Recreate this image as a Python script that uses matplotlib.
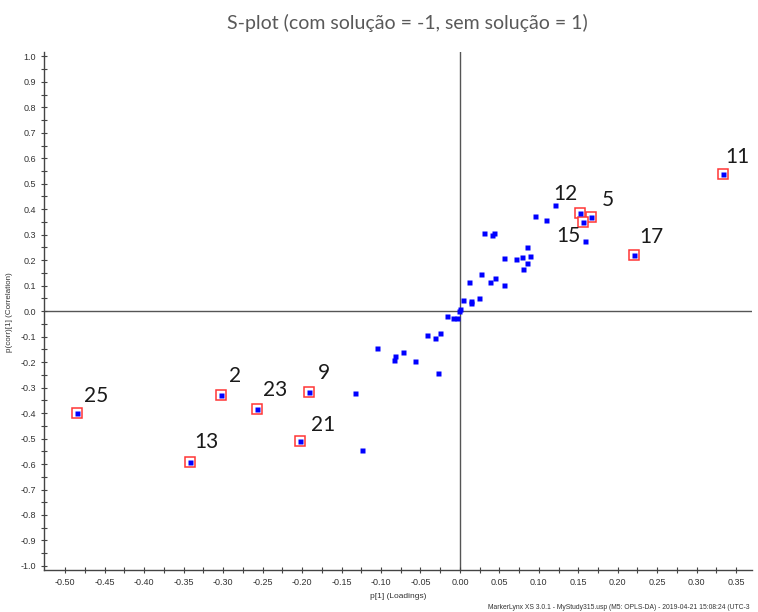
import matplotlib
matplotlib.use("Agg")
import matplotlib.pyplot as plt
from matplotlib.ticker import FormatStrFormatter

plt.rcParams["font.family"] = ["Liberation Sans", "DejaVu Sans"]

# loadings p[1] and correlation p(corr)[1] for every variable
p1 = [0.1207, 0.0954, 0.109, 0.158, 0.030, 0.0405, 0.043, 0.0844, 0.056, 0.0709,
      0.0789, 0.089, 0.0844, 0.0797, 0.0266, 0.011, 0.0447, 0.038, 0.056, 0.0236,
      0.0034, 0.0135, 0.0143, 0.0004, -0.0017, -0.016, -0.0093, -0.0042, -0.0253,
      -0.042, -0.031, -0.105, -0.0725, -0.0827, -0.084, -0.0566, -0.0274, -0.133,
      -0.1245]
pcorr = [0.417, 0.375, 0.357, 0.276, 0.307, 0.299, 0.305, 0.25, 0.208, 0.205,
         0.213, 0.217, 0.188, 0.167, 0.144, 0.115, 0.129, 0.115, 0.103, 0.051,
         0.042, 0.038, 0.033, 0.008, -0.001, -0.020, -0.025, -0.027, -0.086,
         -0.095, -0.107, -0.145, -0.162, -0.176, -0.193, -0.197, -0.244, -0.32,
         -0.545]

# selected variables (boxed and numbered)
sel_id = ["25", "2", "23", "9", "21", "13", "11", "17", "12", "5", "15"]
sel_p1 = [-0.485, -0.3025, -0.257, -0.191, -0.2025, -0.342, 0.333, 0.220, 0.152, 0.166, 0.156]
sel_pcorr = [-0.40, -0.328, -0.383, -0.316, -0.51, -0.591, 0.54, 0.22, 0.384, 0.371, 0.349]
# label offsets in points (dx, dy)
sel_off = [(5, 5), (6, 6), (4.5, 6), (6.5, 6.5), (8, 4.5), (3, 7), (2, 5), (4, 6),
           (-19, 6.5), (7.5, 4.5), (-19, -17)]

xticks = [t / 100 for t in range(-50, 40, 5)]
yticks = [t / 10 for t in range(-10, 11)]

fig = plt.figure(figsize=(7.58, 6.12), dpi=100)
ax = fig.add_axes([0.058, 0.0686, 0.934, 0.846])

ax.axvline(0, color="#555555", lw=1.0, zorder=1)
ax.axhline(0, color="#555555", lw=1.0, zorder=1)

ax.plot(p1, pcorr, "s", color="#0000ff", ms=3.6, mec="none", zorder=3)
ax.plot(sel_p1, sel_pcorr, "s", mfc="white", mec="#ff3535", mew=1.1, ms=6.6, zorder=2)
ax.plot(sel_p1, sel_pcorr, "s", color="#0000ff", ms=3.6, mec="none", zorder=3)

for lab, x, y, (dx, dy) in zip(sel_id, sel_p1, sel_pcorr, sel_off):
    ax.annotate(lab, (x, y), xytext=(dx, dy), textcoords="offset points",
                fontsize=15, family="Lato", color="#1a1a1a", ha="left", va="bottom")

ax.set_xticks(xticks)
ax.set_xticks([t + 0.025 for t in xticks], minor=True)
ax.set_yticks(yticks)
ax.set_yticks([t + 0.05 for t in yticks[:-1]], minor=True)
ax.xaxis.set_major_formatter(FormatStrFormatter("%.2f"))
ax.yaxis.set_major_formatter(FormatStrFormatter("%.1f"))
ax.set_xlim(-0.527, 0.37)
ax.set_ylim(-1.016, 1.016)

for s in ["top", "right"]:
    ax.spines[s].set_visible(False)
for s in ["left", "bottom"]:
    ax.spines[s].set_color("#444444")
    ax.spines[s].set_linewidth(1.0)

ax.tick_params(which="both", direction="inout", length=5, width=0.8, color="#444444",
               labelsize=6.5, labelcolor="#333333", pad=3)

fig.text(0.0125, 0.49, "p(corr)[1] (Correlation)", rotation=90, fontsize=5.8,
         color="#333333", ha="center", va="center")
fig.text(0.525, 0.026, "p[1] (Loadings)", fontsize=6, color="#333333",
         ha="center", va="center")
fig.text(0.644, 0.008, "MarkerLynx XS 3.0.1 - MyStudy315.usp (M5: OPLS-DA) - 2019-04-21 15:08:24 (UTC-3",
         fontsize=4.9, color="#333333", ha="left", va="center")

fig.text(0.537, 0.963, "S-plot (com solução = -1, sem solução = 1)", fontsize=14,
         family="Lato", color="#595959", ha="center", va="center")

fig.savefig("out.png", dpi=100, facecolor="white")
